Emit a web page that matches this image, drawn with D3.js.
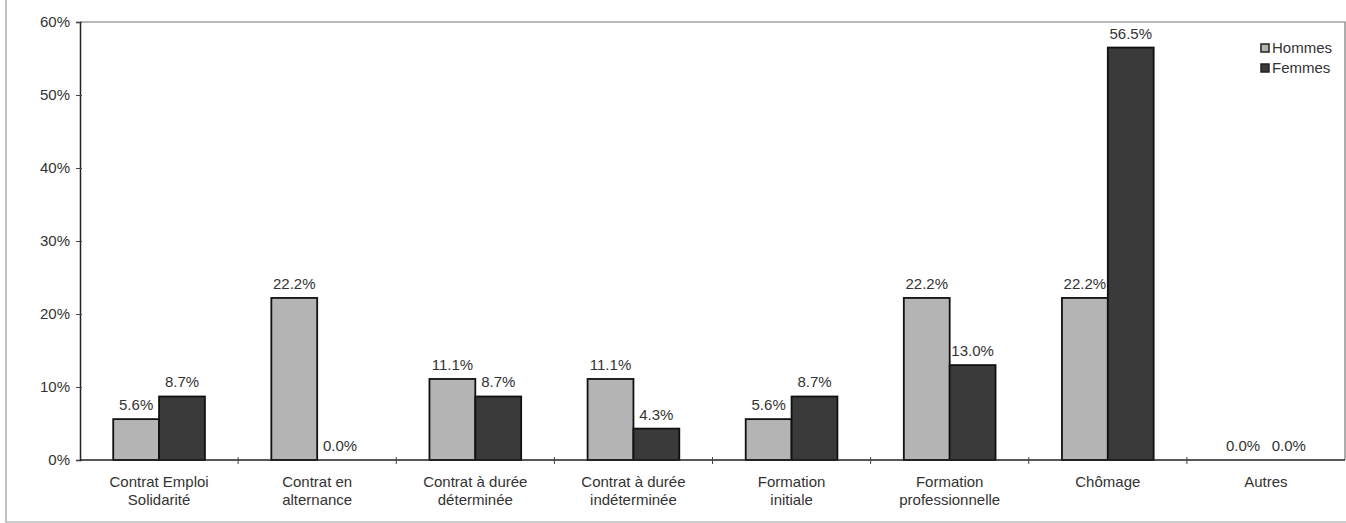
<!DOCTYPE html>
<html><head><meta charset="utf-8">
<script src="https://cdn.jsdelivr.net/npm/d3@7"></script>
<style>html,body{margin:0;padding:0;background:#fff;}svg{display:block;}</style>
</head><body>
<svg id="c" width="1346" height="523"></svg>
<script>
const categories = [
  ["Contrat Emploi","Solidarité"],
  ["Contrat en","alternance"],
  ["Contrat à durée","déterminée"],
  ["Contrat à durée","indéterminée"],
  ["Formation","initiale"],
  ["Formation","professionnelle"],
  ["Chômage"],
  ["Autres"]
];
const series = ["Hommes","Femmes"];
const hommes = [5.6, 22.2, 11.1, 11.1, 5.6, 22.2, 22.2, 0.0];
const femmes = [8.7, 0.0, 8.7, 4.3, 8.7, 13.0, 56.5, 0.0];
const yTicks = [0, 10, 20, 30, 40, 50, 60];
const colors = {Hommes:"#b4b4b4", Femmes:"#3a3a3a"};

const svg = d3.select("#c");
const L = 80, R = 1345, T = 22, B = 460;
const FS = 15;
const keys = categories.map((c,i)=>i);
const x0 = d3.scaleBand().domain(keys).range([L, R]).padding(0);
const bw = x0.bandwidth();
const x1 = d3.scaleBand().domain(series).range([bw*0.21, bw*0.79]).padding(0);
const y = d3.scaleLinear().domain([0, 60]).range([B, T]);
const font = "'Liberation Sans', Arial, sans-serif";

// outer frame
svg.append("path").attr("d", "M6,0 V522 H1346").attr("fill","none").attr("stroke","#999").attr("stroke-width",1.2);

// plot border top/right
svg.append("path").attr("d", `M${L},${T} H${R} V${B}`).attr("fill","none").attr("stroke","#777").attr("stroke-width",1.2);

// bars
const data = keys.map(i => ({i, vals:[{s:"Hommes", v:hommes[i]},{s:"Femmes", v:femmes[i]}]}));
const g = svg.append("g").selectAll("g").data(data).join("g")
  .attr("transform", d => `translate(${x0(d.i)},0)`);
g.selectAll("rect").data(d => d.vals.filter(e => e.v > 0)).join("rect")
  .attr("x", e => x1(e.s)).attr("width", x1.bandwidth())
  .attr("y", e => y(e.v)).attr("height", e => y(0) - y(e.v))
  .attr("fill", e => colors[e.s]).attr("stroke", "#111").attr("stroke-width", 1.8);
g.selectAll("text").data(d => d.vals).join("text")
  .attr("x", e => x1(e.s) + x1.bandwidth()/2)
  .attr("y", e => y(e.v) - 9)
  .attr("text-anchor","middle").attr("font-family", font).attr("font-size", FS).attr("fill","#333")
  .text(e => e.v.toFixed(1) + "%");

// y axis
const ya = svg.append("g").attr("transform", `translate(${L},0)`)
  .call(d3.axisLeft(y).tickValues(yTicks).tickFormat(d => d + "%").tickSize(4).tickPadding(6));
ya.select(".domain").attr("stroke","#222").attr("stroke-width",1.5);
ya.selectAll(".tick line").attr("stroke","#444").attr("x2", 2).attr("x1",-4);
ya.selectAll(".tick text").attr("font-family", font).attr("font-size", FS).attr("fill","#333");

// x axis
const xa = svg.append("g").attr("transform", `translate(0,${B})`);
xa.append("line").attr("x1", L).attr("x2", R).attr("stroke","#222").attr("stroke-width",1.5);
xa.selectAll("line.tk").data(keys.slice(1)).join("line").attr("class","tk")
  .attr("x1", d => x0(d)).attr("x2", d => x0(d)).attr("y1",-3).attr("y2",4).attr("stroke","#444");
xa.selectAll("text").data(keys).join("text")
  .attr("x", d => x0(d) + bw/2).attr("y", 27)
  .attr("text-anchor","middle").attr("font-family", font).attr("font-size", FS).attr("fill","#333")
  .each(function(d){
    const t = d3.select(this);
    categories[d].forEach((line, k) => t.append("tspan").attr("x", x0(d)+bw/2).attr("dy", k ? 18 : 0).text(line));
  });

// legend
const lg = svg.append("g").selectAll("g").data(series).join("g")
  .attr("transform", (d,i) => `translate(1261,${48 + i*20})`);
lg.append("rect").attr("x",0).attr("y",-4).attr("width",8).attr("height",8)
  .attr("fill", d => colors[d]).attr("stroke","#222").attr("stroke-width",1.5);
lg.append("text").attr("x",11).attr("y",5).attr("font-family", font).attr("font-size", FS).attr("fill","#333").text(d => d);
</script>
</body></html>
